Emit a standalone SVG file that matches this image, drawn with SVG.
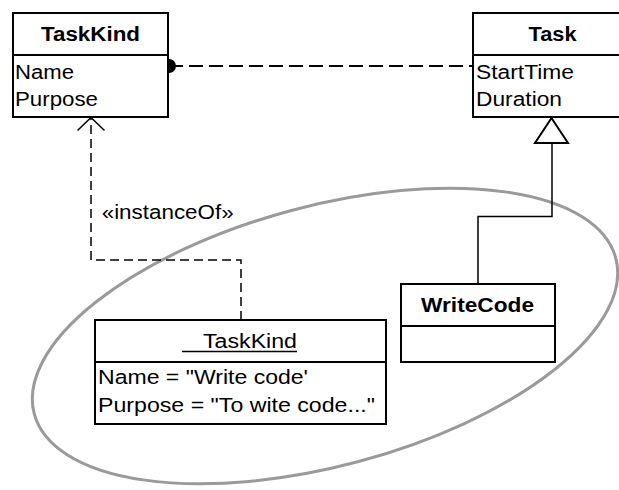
<svg xmlns="http://www.w3.org/2000/svg" width="619" height="490" viewBox="0 0 619 490">
<style>
.box{fill:#fff;stroke:#000;stroke-width:2}
.t{font-family:"Liberation Sans",Arial,sans-serif;font-size:20px;fill:#000}
.b{font-weight:bold}
.dash1{fill:none;stroke:#000;stroke-width:2;stroke-dasharray:14 6}
.dash2{fill:none;stroke:#000;stroke-width:1.5;stroke-dasharray:9 5}
.solid{fill:none;stroke:#000;stroke-width:1.5}
</style>
<rect width="619" height="490" fill="#fff"/>
<ellipse id="boundary" cx="325" cy="336" rx="301" ry="130" transform="rotate(-15 325 336)" fill="none" stroke="#9a9a9a" stroke-width="3"/>
<g id="connectors">
  <line class="dash1" x1="169" y1="66" x2="473" y2="66"/>
  <circle cx="169" cy="66" r="7" fill="#000"/>
  <polyline class="dash2" points="241,320 241,260 91,260 91,118"/>
  <polyline class="solid" points="77.5,130.5 91,117.5 104.5,130.5"/>
  <polyline class="solid" points="478,284 478,216.5 552,216.5 552,143"/>
  <polygon points="551.5,118 535,143 568,143" fill="#fff" stroke="#000" stroke-width="2"/>
  <text class="t" x="101.7" y="219" textLength="132" lengthAdjust="spacingAndGlyphs">«instanceOf»</text>
</g>
<g id="TaskKind">
  <rect class="box" x="13" y="13" width="155" height="104"/>
  <line class="box" x1="13" y1="55" x2="168" y2="55"/>
  <text class="t b" x="41" y="41" textLength="99" lengthAdjust="spacingAndGlyphs">TaskKind</text>
  <text class="t" x="15" y="79" textLength="59" lengthAdjust="spacingAndGlyphs">Name</text>
  <text class="t" x="15" y="106" textLength="83" lengthAdjust="spacingAndGlyphs">Purpose</text>
</g>
<g id="Task">
  <rect class="box" x="473" y="13" width="157" height="104"/>
  <line class="box" x1="473" y1="55" x2="630" y2="55"/>
  <text class="t b" x="528.5" y="41" textLength="48" lengthAdjust="spacingAndGlyphs">Task</text>
  <text class="t" x="476" y="79" textLength="98" lengthAdjust="spacingAndGlyphs">StartTime</text>
  <text class="t" x="476" y="106" textLength="86" lengthAdjust="spacingAndGlyphs">Duration</text>
</g>
<g id="WriteCode">
  <rect class="box" x="401" y="284" width="154" height="78"/>
  <line class="box" x1="401" y1="326" x2="555" y2="326"/>
  <text class="t b" x="421" y="312" textLength="113" lengthAdjust="spacingAndGlyphs">WriteCode</text>
</g>
<g id="TaskKindInstance">
  <rect class="box" x="95" y="320" width="291" height="104"/>
  <line class="box" x1="95" y1="362" x2="386" y2="362"/>
  <text class="t" x="203" y="348" textLength="94" lengthAdjust="spacingAndGlyphs">TaskKind</text>
  <line x1="182" y1="351.5" x2="297" y2="351.5" stroke="#000" stroke-width="1.5"/>
  <text class="t" x="98" y="384" textLength="210" lengthAdjust="spacingAndGlyphs">Name = "Write code'</text>
  <text class="t" x="98" y="412" textLength="277" lengthAdjust="spacingAndGlyphs">Purpose = "To wite code..."</text>
</g>
</svg>
